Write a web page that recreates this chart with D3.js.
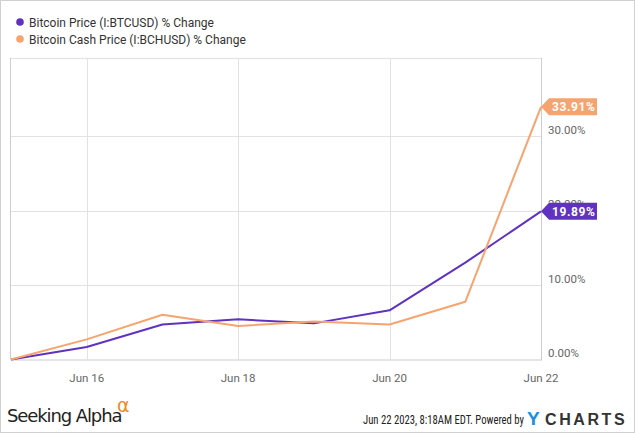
<!DOCTYPE html>
<html><head><meta charset="utf-8">
<script src="https://cdn.jsdelivr.net/npm/d3@7"></script>
<style>body{margin:0;background:#fff}svg{display:block;font-family:Roboto,"Noto Sans",sans-serif}</style>
</head><body><svg id="c" width="635" height="433"></svg>
<script>
const dates = ["2023-06-15","2023-06-16","2023-06-17","2023-06-18","2023-06-19","2023-06-20","2023-06-21","2023-06-22"];
const btc = [0, 1.67, 4.7, 5.4, 4.85, 6.6, 13.0, 19.89];
const bch = [0, 2.7, 6.0, 4.5, 5.1, 4.7, 7.75, 33.91];
const yTicks = [0, 10, 20, 30];
const xTicks = ["2023-06-16","2023-06-18","2023-06-20","2023-06-22"];
const seriesNames = ["Bitcoin Price (I:BTCUSD) % Change","Bitcoin Cash Price (I:BCHUSD) % Change"];
const colors = ["#5f32c0","#f6a46f"];

const parse = d3.timeParse("%Y-%m-%d");
const svg = d3.select("#c");
const L=11, R=541, T=58, B=359.5;
const x = d3.scaleTime().domain([parse(dates[0]), parse(dates[dates.length-1])]).range([L,R]);
const y = d3.scaleLinear().domain([0,10]).range([B,285]);

// outer border
svg.append("rect").attr("x",0.5).attr("y",0.5).attr("width",634).attr("height",432).attr("fill","none").attr("stroke","#d0d0d0");

// grid
svg.append("g").selectAll("line").data(yTicks.slice(1)).join("line")
  .attr("x1",L).attr("x2",R).attr("y1",d=>Math.round(y(d))+0.5).attr("y2",d=>Math.round(y(d))+0.5)
  .attr("stroke","#e2e2e2");
svg.append("g").selectAll("line").data(xTicks.slice(0,3)).join("line")
  .attr("x1",d=>Math.round(x(parse(d)))+0.5).attr("x2",d=>Math.round(x(parse(d)))+0.5).attr("y1",T).attr("y2",B)
  .attr("stroke","#e2e2e2");
// frame
svg.append("line").attr("x1",L).attr("x2",R).attr("y1",T+0.5).attr("y2",T+0.5).attr("stroke","#e2e2e2");
svg.append("line").attr("x1",L-0.5).attr("x2",L-0.5).attr("y1",T).attr("y2",B).attr("stroke","#cccccc");
svg.append("line").attr("x1",R+0.5).attr("x2",R+0.5).attr("y1",T).attr("y2",B+1).attr("stroke","#cccccc");
svg.append("line").attr("x1",L).attr("x2",R).attr("y1",B+0.5).attr("y2",B+0.5).attr("stroke","#cccccc");

// y tick labels
svg.append("g").selectAll("text").data(yTicks).join("text")
  .attr("x",548).attr("y",d=>y(d)-2.5).attr("font-size",11.5).attr("fill","#666")
  .text(d=>d.toFixed(2)+"%");
// x tick labels
svg.append("g").selectAll("text").data(xTicks).join("text")
  .attr("x",d=>x(parse(d))).attr("y",382).attr("text-anchor","middle").attr("font-size",11.5).attr("fill","#666")
  .text(d=>d3.timeFormat("%b %d")(parse(d)));

// lines
const line = d3.line().x((d,i)=>x(parse(dates[i]))).y(d=>y(d));
[btc,bch].forEach((s,k)=>{
  svg.append("path").datum(s).attr("d",line).attr("fill","none").attr("stroke",colors[k]).attr("stroke-width",2).attr("stroke-linejoin","round");
});
// end labels
[bch,btc].forEach((s,j)=>{
  const k = j===0?1:0;
  const v = s[s.length-1];
  const px = x(parse(dates[dates.length-1])), py = y(v);
  const w=56,h=17;
  svg.append("path").attr("d",`M${px},${py} L${px+8},${py-h/2} L${px+w},${py-h/2} L${px+w},${py+h/2} L${px+8},${py+h/2} Z`).attr("fill",colors[k]);
  svg.append("text").attr("x",px+11).attr("y",py+4.5).attr("font-size",12).attr("font-weight","bold").attr("fill","#fff").attr("letter-spacing",0.6).text(v.toFixed(2)+"%");
});

// legend
seriesNames.forEach((n,i)=>{
  svg.append("circle").attr("cx",20).attr("cy",22+i*17).attr("r",3.8).attr("fill",colors[i]);
  svg.append("text").attr("x",29).attr("y",26.5+i*17).attr("font-size",12).attr("fill","#333").text(n);
});

// footer
svg.append("text").attr("x",7).attr("y",422).attr("font-family","'DejaVu Sans',sans-serif").attr("font-size",18).attr("fill","#222").attr("letter-spacing",-1.1).text("Seeking Alpha");
svg.append("text").attr("x",117).attr("y",412).attr("font-family","'DejaVu Sans',sans-serif").attr("font-size",19).attr("fill","#f08a1c").text("α");
svg.append("text").attr("x",363).attr("y",424).attr("font-family","'Liberation Sans Narrow','Roboto Condensed',sans-serif").attr("font-size",12).attr("textLength",161).attr("lengthAdjust","spacingAndGlyphs").attr("fill","#222").text("Jun 22 2023, 8:18AM EDT.  Powered by");
svg.append("text").attr("x",527).attr("y",425).attr("font-family","'Liberation Sans','Roboto',sans-serif").attr("font-weight","bold").attr("font-size",19).attr("fill","#1b8fe0").text("Y");
svg.append("text").attr("x",545).attr("y",425).attr("font-family","'Liberation Sans','Roboto',sans-serif").attr("font-weight","bold").attr("font-size",16).attr("letter-spacing",2.6).attr("fill","#333").text("CHARTS");
</script></body></html>
